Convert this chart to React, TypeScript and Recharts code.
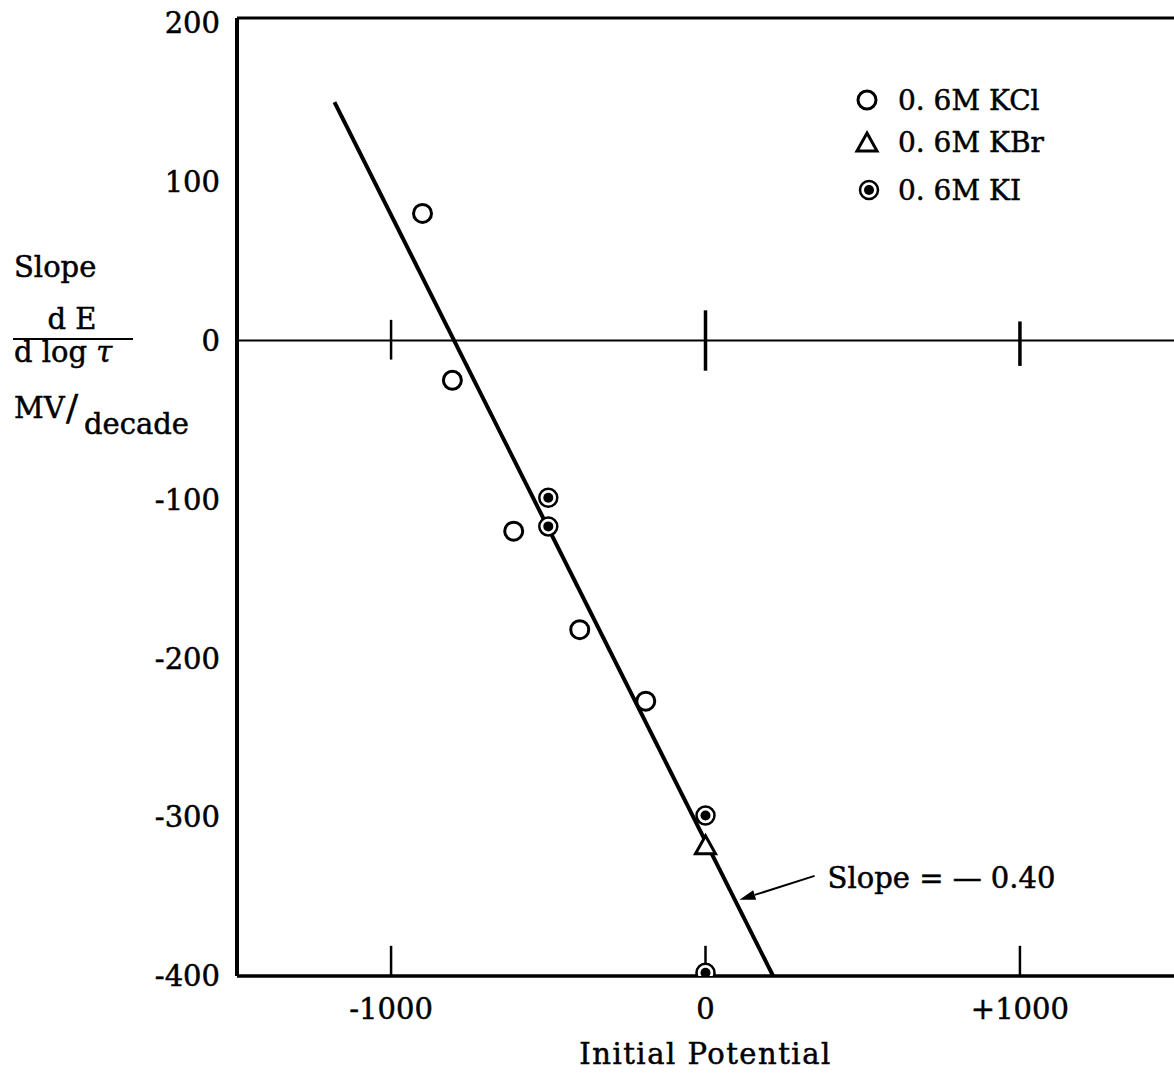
import React from 'react';
import {
  ComposedChart,
  Scatter,
  XAxis,
  YAxis,
  ReferenceLine,
} from 'recharts';

const kclX = [-900, -805, -610, -400, -190];
const kclY = [80, -25, -120, -182, -227];
const kbrX = [0];
const kbrY = [-318];
const kiX = [-500, -500, 0, 0];
const kiY = [-99, -117, -299, -398];
const fitX = [-1180, 215];
const fitY = [150, -400];

const xTicks = [-1000, 0, 1000];
const yTicks = [200, 100, 0, -100, -200, -300, -400];
const yTop = 203; // frame sits a little above the 200 tick

const toPoints = (xs: number[], ys: number[]) => xs.map((x, i) => ({ x, y: ys[i] }));

const kcl = toPoints(kclX, kclY);
const kbr = toPoints(kbrX, kbrY);
const ki = toPoints(kiX, kiY);
const fit = toPoints(fitX, fitY);

const FONT = '"DejaVu Serif", serif';
const FS = 29;
const ink = { fill: '#000', stroke: '#000', strokeWidth: 0.5 };

const OpenCircle = (p: any) => (
  <circle cx={p.cx} cy={p.cy} r={9} fill="#fff" stroke="#000" strokeWidth={3} />
);
const Triangle = (p: any) => (
  <path
    d={`M${p.cx},${p.cy - 10} L${p.cx + 10},${p.cy + 8} L${p.cx - 10},${p.cy + 8} Z`}
    fill="#fff"
    stroke="#000"
    strokeWidth={3}
  />
);
const DotCircle = (p: any) => (
  <g>
    <circle cx={p.cx} cy={p.cy} r={9} fill="#fff" stroke="#000" strokeWidth={2.5} />
    <circle cx={p.cx} cy={p.cy} r={5} fill="#000" />
  </g>
);

const LegendBox = () => (
  <svg
    width={220}
    height={140}
    style={{ position: 'absolute', left: 850, top: 80, fontFamily: FONT, fontSize: 28 }}
  >
    <OpenCircle cx={17} cy={20} />
    <text x={48} y={30} {...ink}>0. 6M KCl</text>
    <Triangle cx={17} cy={63} />
    <text x={48} y={72} {...ink}>0. 6M KBr</text>
    <DotCircle cx={19} cy={110} />
    <text x={48} y={120} {...ink}>0. 6M KI</text>
  </svg>
);

const YLabel = () => (
  <g style={{ fontFamily: FONT, fontSize: FS }} {...ink}>
    <text x={14} y={277}>Slope</text>
    <text x={72} y={329} textAnchor="middle">d E</text>
    <line x1={13} y1={339} x2={133} y2={339} stroke="#000" strokeWidth={2} />
    <text x={14} y={362}>
      d log <tspan fontStyle="italic">τ</tspan>
    </text>
    <text x={14} y={418}>MV</text>
    <text x={66} y={420} fontSize={36}>/</text>
    <text x={84} y={434}>decade</text>
  </g>
);

const Arrow = (p: any) => {
  const { x1, y1, x2, y2 } = p;
  const ang = Math.atan2(y2 - y1, x2 - x1);
  const L = 16;
  const W = 5;
  const bx = x2 - L * Math.cos(ang);
  const by = y2 - L * Math.sin(ang);
  const px = -Math.sin(ang) * W;
  const py = Math.cos(ang) * W;
  return (
    <g>
      <line x1={x1} y1={y1} x2={bx} y2={by} stroke="#000" strokeWidth={2} />
      <path d={`M${x2},${y2} L${bx + px},${by + py} L${bx - px},${by - py} Z`} fill="#000" />
      <text x={x1 + 13} y={y1 + 12} style={{ fontFamily: FONT, fontSize: FS }} {...ink}>
        Slope = — 0.40
      </text>
    </g>
  );
};

// short crossing ticks on the zero line (lengths differ a little per tick in the original)
const zeroTickSpan: Record<number, [number, number]> = {
  [-1000]: [-12, 13],
  0: [-19, 19],
  1000: [-16, 12],
};

const App: React.FC = () => {
  return (
    <div style={{ position: 'absolute', left: 0, top: 0, width: 1174, height: 1075, background: '#fff' }}>
      <ComposedChart
        width={1174}
        height={1075}
        margin={{ top: 18, right: 0, bottom: 0, left: 0 }}
        style={{ fontFamily: FONT }}
      >
        <XAxis
          type="number"
          dataKey="x"
          domain={[-1490, 1490]}
          ticks={xTicks}
          allowDataOverflow
          height={99}
          tickLine={false}
          axisLine={{ stroke: '#000', strokeWidth: 3.5 }}
          tick={{ ...ink, fontSize: FS, fontFamily: FONT }}
          tickMargin={16}
          tickFormatter={(v: number) => (v > 0 ? `+${v}` : `${v}`)}
          label={{
            value: 'Initial  Potential',
            position: 'insideBottom',
            offset: 11,
            ...ink,
            fontSize: FS,
            fontFamily: FONT,
            letterSpacing: 1.5,
            style: { whiteSpace: 'pre' },
          }}
        />
        <YAxis
          type="number"
          dataKey="y"
          domain={[-400, yTop]}
          ticks={yTicks}
          allowDataOverflow
          width={237}
          tickLine={false}
          axisLine={{ stroke: '#000', strokeWidth: 4 }}
          tick={{ ...ink, fontSize: FS, fontFamily: FONT }}
          tickMargin={11}
          label={{ content: () => <YLabel /> }}
        />
        <ReferenceLine y={yTop} stroke="#000" strokeWidth={3} />
        <ReferenceLine y={0} stroke="#000" strokeWidth={2} />
        {xTicks.map((t) => (
          <ReferenceLine
            key={`z${t}`}
            segment={[{ x: t, y: zeroTickSpan[t][0] }, { x: t, y: zeroTickSpan[t][1] }]}
            stroke="#000"
            strokeWidth={t === -1000 ? 2.5 : 3.5}
          />
        ))}
        {xTicks.map((t) => (
          <ReferenceLine
            key={`b${t}`}
            segment={[{ x: t, y: -400 }, { x: t, y: -381 }]}
            stroke="#000"
            strokeWidth={2.5}
          />
        ))}
        <ReferenceLine
          segment={[{ x: 347, y: -337 }, { x: 108, y: -352 }]}
          shape={(p: any) => <Arrow {...p} />}
        />
        <Scatter
          data={fit}
          line={{ stroke: '#000', strokeWidth: 4 }}
          shape={() => <g />}
          isAnimationActive={false}
        />
        <Scatter data={kcl} shape={(p: any) => <OpenCircle {...p} />} isAnimationActive={false} />
        <Scatter data={kbr} shape={(p: any) => <Triangle {...p} />} isAnimationActive={false} />
        <Scatter data={ki} shape={(p: any) => <DotCircle {...p} />} isAnimationActive={false} />
      </ComposedChart>
      <LegendBox />
    </div>
  );
};

export default App;
